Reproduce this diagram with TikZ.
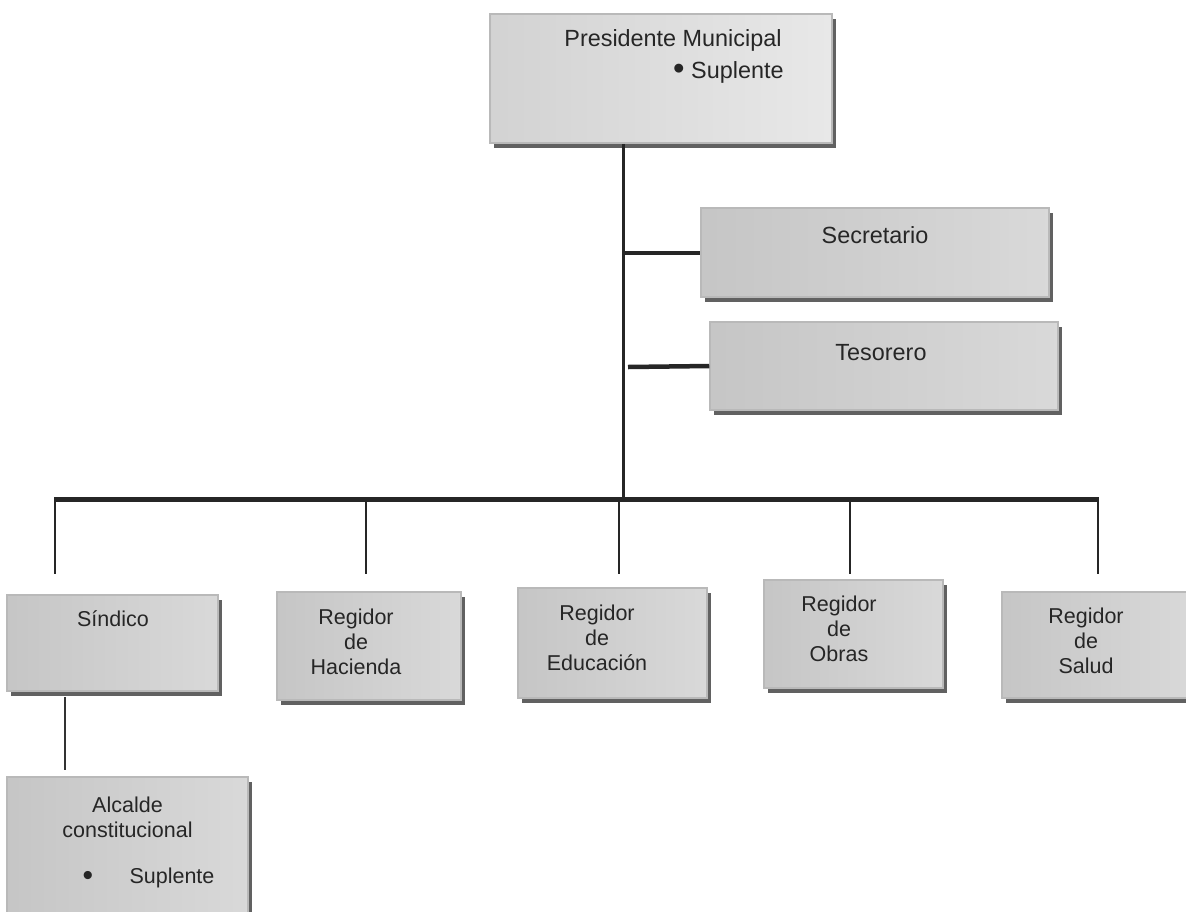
\documentclass[tikz,border=0pt]{standalone}
\usepackage{fontspec}
\setmainfont{Liberation Sans}
\usetikzlibrary{shadows}

\begin{document}
\begin{tikzpicture}[x=1pt, y=-1pt,
        cargo/.style={rectangle, draw=gray!55, line width=1.5pt, left color=gray!45, right color=gray!30,
            drop shadow={shadow xshift=4pt, shadow yshift=-5pt, fill=black!62, opacity=1}},
        grande/.style={font=\fontsize{23.4}{32}\selectfont, text=black!85, inner sep=0pt},
        chico/.style={font=\fontsize{21.5}{25}\selectfont, text=black!85, inner sep=0pt, align=center}]
        \useasboundingbox (0,0) rectangle (1186,911);
        % cajas
        \node[cargo, left color=gray!35, right color=gray!18, minimum width=342pt, minimum height=129pt] (pres) at (661,78.5) {};
        \node[cargo, minimum width=348pt, minimum height=89pt] (secr) at (875,252.5) {};
        \node[cargo, minimum width=348pt, minimum height=88pt] (teso) at (884,366) {};
        \node[cargo, minimum width=211pt, minimum height=96pt] (sind) at (112.5,643) {};
        \node[cargo, minimum width=184pt, minimum height=108pt] (hac) at (369,646) {};
        \node[cargo, minimum width=189pt, minimum height=110pt] (edu) at (612.5,643) {};
        \node[cargo, minimum width=179pt, minimum height=108pt] (obr) at (853.5,634) {};
        \node[cargo, minimum width=190pt, minimum height=106pt] (sal) at (1097,645) {};
        \node[cargo, minimum width=241pt, minimum height=158pt] (alc) at (127.5,856) {};
        % textos
        \node[grande] (pres-t) at (673,40) {Presidente Municipal};
        \node[grande, anchor=west] (pres-s) at (673,72) {\raisebox{-1pt}{\scalebox{1.4}{•}} Suplente};
        \node[grande] (secr-t) at (875,235) {Secretario};
        \node[grande] (teso-t) at (881,353) {Tesorero};
        \node[chico] (sind-t) at (113,619) {Síndico};
        \node[chico] (hac-t) at (356,642) {Regidor\\de\\Hacienda};
        \node[chico] (edu-t) at (597,638) {Regidor\\de\\Educación};
        \node[chico] (obr-t) at (839,629) {Regidor\\de\\Obras};
        \node[chico] (sal-t) at (1086,641) {Regidor\\de\\Salud};
        \node[chico] (alc-t) at (127.5,817) {Alcalde\\constitucional};
        \node[chico] (alc-b) at (88,878) {\scalebox{1.4}{•}};
        \node[chico] (alc-s) at (172,878) {Suplente};
        % lineas
        \coordinate (tronco) at (623,499);
        \coordinate (izq) at (55,499);
        \coordinate (der) at (1098,499);
        \coordinate (teso-c) at (628,367);
        \draw[line width=3pt, black!85] (tronco |- pres.south) -- (tronco);
        \draw[line width=4pt, black!85] (tronco |- secr.west) -- (secr.west);
        \draw[line width=4.5pt, black!85] (teso-c) -- (teso.west);
        \draw[line width=5pt, black!85] (izq) -- (der);
        \foreach \x [count=\i] in {55, 366, 619, 850, 1098} {
            \coordinate (b\i) at (\x,497);
            \coordinate (e\i) at (\x,574);
            \draw[line width=2.5pt, black!85] (b\i) -- (e\i);
        }
        \coordinate (sa) at (65,697);
        \coordinate (sb) at (65,770);
        \draw[line width=1.5pt, black!80] (sa) -- (sb);
    \end{tikzpicture}
\end{document}
